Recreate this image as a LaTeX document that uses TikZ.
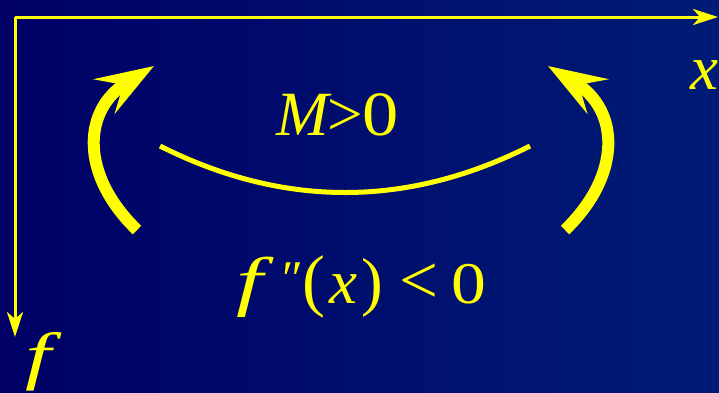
\documentclass[tikz,border=0pt]{standalone}
\usepackage{fontspec}
\setmainfont{Liberation Serif}
\usetikzlibrary{arrows.meta}
\definecolor{bgleft}{RGB}{0,0,102}
\definecolor{bgright}{RGB}{0,28,118}
\definecolor{ylw}{RGB}{255,255,0}
\newcommand{\fsz}[1]{\fontsize{#1}{#1}\selectfont}
\newcommand{\glat}[2]{\rlap{\hspace{#1pt}#2}}
\tikzset{
  axis/.style={draw=ylw, line width=3pt, -{Stealth[length=25pt,width=16pt,inset=7pt]}},
  bigarrow/.style={draw=ylw, line width=12pt, -{Stealth[length=58pt,width=40pt,inset=22pt]}},
  smile/.style={draw=ylw, line width=5pt},
  lbl/.style={text=ylw, inner sep=0pt, anchor=base west}
}
\begin{document}
\begin{tikzpicture}[x=1pt,y=-1pt]
\useasboundingbox (0,0) rectangle (719,392);
\shade[left color=bgleft, right color=bgright] (0,0) rectangle (719,392);
% axes
\coordinate (o) at (15,17);
\coordinate (xe) at (718,17);
\coordinate (fe) at (15,337);
\draw[axis] (o) -- (xe);
\draw[axis] (o) -- (fe);
\node[lbl] (xl) at (690,89) {\fsz{63}\textit{x}};
\node[lbl] (fl) at (25,377) {\fsz{64}\scalebox{1.45}[1]{\textit{f}}};
% arcs
\coordinate (la) at (137,230);
\coordinate (lb) at (154,66);
\coordinate (ra) at (565,230);
\coordinate (rb) at (548,66);
\draw[bigarrow] (la) .. controls (80,175) and (82,110) .. (lb);
\draw[bigarrow] (ra) .. controls (622,175) and (620,110) .. (rb);
\coordinate (ma) at (160,146);
\coordinate (mb) at (530,146);
\draw[smile] (ma) .. controls (283,208) and (407,208) .. (mb);
% labels
\node[lbl] (m) at (276,135)
  {\fsz{63}\glat{0}{\textit{M}}\glat{51}{>}\glat{86}{\scalebox{1.15}[1]{0}}};
\node[lbl] (c) at (236,303)
  {\glat{0}{\fsz{66}\scalebox{1.45}[1]{\textit{f}}}%
   \glat{46}{\fsz{50}\raisebox{8pt}{″}}%
   \glat{66}{\fsz{69}(}%
   \glat{93}{\fsz{63}\textit{x}}%
   \glat{125}{\fsz{65})}%
   \glat{163}{\fsz{69}<}%
   \glat{215}{\fsz{59}\scalebox{1.18}[1]{0}}};
\end{tikzpicture}
\end{document}
